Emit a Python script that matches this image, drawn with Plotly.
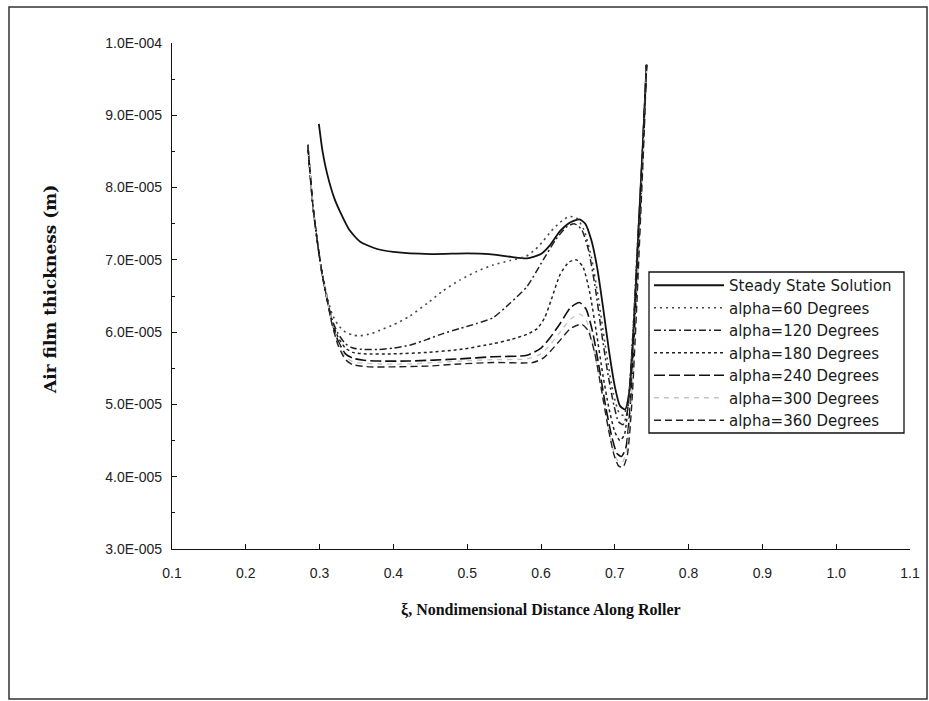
import numpy as np
import plotly.graph_objects as go

# ---------------- data (air film thickness in units of 1e-5 m) ----------------
x_tick_vals = [0.1, 0.2, 0.3, 0.4, 0.5, 0.6, 0.7, 0.8, 0.9, 1.0, 1.1]
x_tick_text = ["0.1", "0.2", "0.3", "0.4", "0.5", "0.6", "0.7", "0.8", "0.9", "1.0", "1.1"]
y_tick_vals_e5 = [3, 4, 5, 6, 7, 8, 9, 10]
y_tick_text = ["3.0E-005", "4.0E-005", "5.0E-005", "6.0E-005", "7.0E-005",
               "8.0E-005", "9.0E-005", "1.0E-004"]
x_title = "ξ, Nondimensional Distance Along Roller"
y_title = "Air film thickness (m)"

steady_x = [0.299, 0.304, 0.310, 0.320, 0.328, 0.340, 0.355, 0.378, 0.400, 0.450, 0.500, 0.530,
            0.560, 0.581, 0.600, 0.612, 0.626, 0.640, 0.652, 0.660, 0.668, 0.676, 0.684, 0.692,
            0.700, 0.707, 0.714, 0.720, 0.726, 0.732, 0.738, 0.743]
steady_h = [8.88, 8.50, 8.20, 7.85, 7.66, 7.42, 7.25, 7.15, 7.11, 7.08, 7.09, 7.08,
            7.04, 7.02, 7.08, 7.20, 7.40, 7.52, 7.56, 7.50, 7.28, 6.90, 6.35, 5.75,
            5.25, 4.98, 4.93, 5.20, 6.10, 7.40, 8.60, 9.70]

a60_x = [0.284, 0.291, 0.297, 0.303, 0.310, 0.317, 0.325, 0.335, 0.345, 0.355, 0.370, 0.385,
         0.400, 0.422, 0.446, 0.467, 0.490, 0.513, 0.535, 0.558, 0.580, 0.592, 0.603, 0.614,
         0.626, 0.638, 0.648, 0.658, 0.668, 0.678, 0.688, 0.698, 0.706, 0.712, 0.718, 0.724,
         0.730, 0.737, 0.743]
a60_h = [8.59, 7.74, 7.25, 6.85, 6.50, 6.25, 6.10, 6.00, 5.96, 5.95, 5.98, 6.04,
         6.10, 6.22, 6.40, 6.57, 6.72, 6.84, 6.93, 6.99, 7.05, 7.14, 7.26, 7.40,
         7.52, 7.60, 7.58, 7.42, 7.05, 6.45, 5.75, 5.15, 4.88, 4.85, 5.05, 5.90,
         7.10, 8.40, 9.70]

a120_x = [0.284, 0.291, 0.297, 0.303, 0.310, 0.317, 0.325, 0.335, 0.345, 0.360, 0.380, 0.400,
          0.422, 0.446, 0.467, 0.490, 0.513, 0.535, 0.558, 0.581, 0.603, 0.620, 0.634, 0.645,
          0.655, 0.664, 0.673, 0.682, 0.691, 0.699, 0.705, 0.711, 0.717, 0.723, 0.730, 0.737,
          0.743]
a120_h = [8.59, 7.74, 7.25, 6.83, 6.46, 6.17, 5.98, 5.84, 5.78, 5.76, 5.76, 5.78,
          5.82, 5.90, 5.98, 6.05, 6.12, 6.20, 6.40, 6.63, 7.00, 7.28, 7.45, 7.50,
          7.42, 7.15, 6.65, 6.00, 5.40, 4.98, 4.76, 4.72, 4.90, 5.70, 7.00, 8.40,
          9.70]

a180_x = [0.284, 0.291, 0.297, 0.303, 0.310, 0.317, 0.325, 0.335, 0.345, 0.360, 0.400, 0.446,
          0.490, 0.535, 0.560, 0.581, 0.595, 0.605, 0.614, 0.626, 0.638, 0.648, 0.657, 0.666,
          0.675, 0.684, 0.692, 0.700, 0.707, 0.713, 0.719, 0.725, 0.731, 0.737, 0.743]
a180_h = [8.59, 7.74, 7.25, 6.83, 6.46, 6.15, 5.93, 5.78, 5.72, 5.70, 5.70, 5.72,
          5.76, 5.84, 5.90, 5.97, 6.05, 6.20, 6.45, 6.80, 6.97, 7.00, 6.90, 6.55,
          6.00, 5.40, 4.95, 4.62, 4.50, 4.58, 5.10, 6.00, 7.20, 8.40, 9.70]

a240_x = [0.284, 0.291, 0.297, 0.303, 0.310, 0.317, 0.325, 0.335, 0.345, 0.360, 0.380, 0.420,
          0.490, 0.535, 0.581, 0.600, 0.612, 0.626, 0.640, 0.652, 0.661, 0.670, 0.679, 0.688,
          0.696, 0.703, 0.709, 0.715, 0.721, 0.727, 0.733, 0.738, 0.743]
a240_h = [8.59, 7.74, 7.25, 6.83, 6.46, 6.13, 5.88, 5.70, 5.64, 5.61, 5.60, 5.60,
          5.63, 5.66, 5.68, 5.78, 5.92, 6.12, 6.34, 6.41, 6.32, 6.00, 5.50, 4.95,
          4.55, 4.32, 4.28, 4.40, 5.00, 6.10, 7.40, 8.50, 9.70]

a300_x = [0.284, 0.291, 0.297, 0.303, 0.310, 0.317, 0.325, 0.335, 0.345, 0.360, 0.380, 0.420,
          0.490, 0.535, 0.581, 0.600, 0.612, 0.626, 0.640, 0.653, 0.662, 0.671, 0.680, 0.689,
          0.697, 0.704, 0.710, 0.716, 0.722, 0.728, 0.734, 0.739, 0.743]
a300_h = [8.59, 7.74, 7.25, 6.83, 6.46, 6.12, 5.85, 5.66, 5.59, 5.57, 5.56, 5.56,
          5.60, 5.62, 5.63, 5.70, 5.82, 6.00, 6.18, 6.25, 6.15, 5.80, 5.30, 4.78,
          4.40, 4.22, 4.20, 4.35, 5.00, 6.10, 7.40, 8.50, 9.70]

a360_x = [0.284, 0.291, 0.297, 0.303, 0.310, 0.317, 0.325, 0.335, 0.345, 0.368, 0.400, 0.446,
          0.490, 0.535, 0.589, 0.603, 0.614, 0.626, 0.640, 0.655, 0.664, 0.673, 0.682, 0.691,
          0.699, 0.705, 0.711, 0.717, 0.723, 0.729, 0.735, 0.740, 0.743]
a360_h = [8.59, 7.74, 7.25, 6.83, 6.46, 6.10, 5.82, 5.62, 5.55, 5.52, 5.52, 5.53,
          5.56, 5.58, 5.58, 5.64, 5.75, 5.89, 6.05, 6.11, 6.02, 5.70, 5.20, 4.68,
          4.30, 4.15, 4.13, 4.30, 5.00, 6.20, 7.60, 8.80, 9.70]

series_names = ["Steady State Solution", "alpha=60 Degrees", "alpha=120 Degrees",
                "alpha=180 Degrees", "alpha=240 Degrees", "alpha=300 Degrees",
                "alpha=360 Degrees"]

SCALE = 1e-5
series = [
    (steady_x, steady_h, dict(color="#111111", width=1.8, dash="solid")),
    (a60_x, a60_h, dict(color="#444444", width=1.6, dash="2px,4px")),
    (a120_x, a120_h, dict(color="#222222", width=1.5, dash="7px,3px,2px,3px")),
    (a180_x, a180_h, dict(color="#222222", width=1.5, dash="3px,3px")),
    (a240_x, a240_h, dict(color="#111111", width=1.6, dash="11px,4px")),
    (a300_x, a300_h, dict(color="#c4c4c4", width=1.3, dash="5px,5px")),
    (a360_x, a360_h, dict(color="#222222", width=1.4, dash="7px,4px")),
]

fig = go.Figure()
for name, (xs, hs, ln) in zip(series_names, series):
    fig.add_trace(go.Scatter(
        x=xs, y=np.array(hs) * SCALE, mode="lines", name=name,
        line=dict(shape="spline", smoothing=0.6, **ln),
    ))

y_major = np.array(y_tick_vals_e5) * SCALE
y_minor = (y_major[:-1] + y_major[1:]) / 2

# layout geometry
W, H = 929, 701
L, R, T, B = 172, 19, 43, 152
pw, ph = W - L - R, H - T - B


def px_x(p):
    return (p - L) / pw


def px_y(p):
    return (H - B - p) / ph


tick_font = dict(family="Liberation Sans, Arial, sans-serif", size=14, color="#222222")
serif = "Liberation Serif, Times New Roman, serif"

fig.update_layout(
    width=W, height=H,
    margin=dict(l=L, r=R, t=T, b=B, autoexpand=False),
    paper_bgcolor="white", plot_bgcolor="white",
    showlegend=True,
    legend=dict(
        x=px_x(649), y=px_y(269), xanchor="left", yanchor="top",
        bgcolor="rgba(255,255,255,0)", borderwidth=0,
        font=dict(family="DejaVu Sans, sans-serif", size=15, color="#1a1a1a"),
        itemwidth=70, tracegroupgap=0,
    ),
    xaxis=dict(
        range=[0.1, 1.1], tickmode="array", tickvals=x_tick_vals, ticktext=x_tick_text,
        showline=True, linecolor="#111111", linewidth=1.3, mirror=False,
        ticks="inside", ticklen=5, tickcolor="#111111", showgrid=False, zeroline=False,
        tickfont=tick_font, ticklabelstandoff=11,
    ),
    yaxis=dict(
        range=[3e-5, 1e-4], tickmode="array", tickvals=list(y_major), ticktext=y_tick_text,
        showline=True, linecolor="#111111", linewidth=1.3, mirror=False,
        ticks="inside", ticklen=5, tickcolor="#111111", showgrid=False, zeroline=False,
        tickfont=tick_font, ticklabelstandoff=6,
        minor=dict(tickmode="array", tickvals=list(y_minor), ticks="inside", ticklen=3,
                   tickcolor="#111111", showgrid=False),
    ),
    annotations=[
        dict(text="<b>" + x_title + "</b>", xref="paper", yref="paper",
             x=px_x(541), y=px_y(610), xanchor="center", yanchor="middle", showarrow=False,
             font=dict(family=serif, size=16, color="#111111")),
        dict(text="<b>" + y_title + "</b>", xref="paper", yref="paper", textangle=-90,
             x=px_x(50), y=px_y(289), xanchor="center", yanchor="middle", showarrow=False,
             font=dict(family="DejaVu Serif, serif", size=17, color="#111111")),
    ],
    shapes=[
        # legend box
        dict(type="rect", xref="paper", yref="paper",
             x0=px_x(649), x1=px_x(904), y0=px_y(433), y1=px_y(272),
             line=dict(color="#111111", width=1.3), fillcolor="rgba(0,0,0,0)", layer="above"),
        # outer frame
        dict(type="rect", xref="paper", yref="paper",
             x0=px_x(9), x1=px_x(927), y0=px_y(699), y1=px_y(7),
             line=dict(color="#333333", width=1.5), fillcolor="rgba(0,0,0,0)", layer="above"),
    ],
)

fig.write_html("out.html")
